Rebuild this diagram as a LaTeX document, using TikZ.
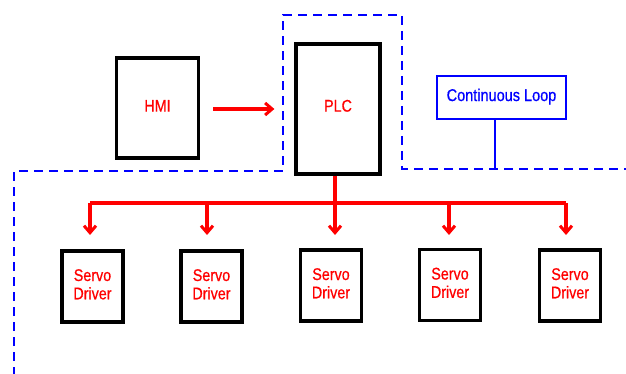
\documentclass[tikz,border=0pt]{standalone}
\usepackage{fontspec}
\usepackage{graphicx}
\setmainfont{Liberation Sans}[BoldFont=Liberation Sans,BoldFeatures={FakeBold=0.7}]
\usetikzlibrary{arrows.meta}
\newcommand{\tallt}[1]{\scalebox{1}[1.18]{\begin{tabular}{@{}c@{}}#1\end{tabular}}}
\begin{document}
\begin{tikzpicture}[x=1pt,y=-1pt,
  blk/.style={draw=black,line width=3.2pt,rectangle,inner sep=0pt,text=red,
    font=\fontsize{14.3}{15.5}\selectfont\bfseries},
  loopbox/.style={draw=blue,line width=1.6pt,rectangle,inner sep=0pt,text=blue,
    font=\fontsize{14.5}{15}\selectfont\bfseries,minimum width=129pt,minimum height=43pt},
  redline/.style={draw=red,line width=3.2pt},
  arr/.style={redline,-{Straight Barb[length=7pt,width=12pt,line width=3pt]}},
  bound/.style={draw=blue,line width=1.8pt,dash pattern=on 9pt off 6pt},
  conn/.style={draw=blue,line width=1.6pt}]
\useasboundingbox (0,0) rectangle (626,374);
\fill[white] (0,0) rectangle (626,374);
\node[blk,minimum width=82pt,minimum height=100pt] (hmi) at (157.5,108) {\raisebox{3pt}{\tallt{HMI}}};
\node[blk,minimum width=84pt,minimum height=130pt] (plc) at (338,109) {\raisebox{7pt}{\tallt{PLC}}};
\node[loopbox] (loop) at (501.5,97.5) {\tallt{Continuous Loop}};
\node[blk,minimum width=61pt,minimum height=71pt] (s1) at (92.5,286.5) {\raisebox{2pt}{\tallt{Servo\\Driver}}};
\node[blk,minimum width=61pt,minimum height=71pt] (s2) at (211.5,286.5) {\raisebox{2pt}{\tallt{Servo\\Driver}}};
\node[blk,minimum width=61pt,minimum height=71pt] (s3) at (331,285.5) {\raisebox{2pt}{\tallt{Servo\\Driver}}};
\node[blk,minimum width=61pt,minimum height=71pt] (s4) at (450,285) {\raisebox{2pt}{\tallt{Servo\\Driver}}};
\node[blk,minimum width=61pt,minimum height=71pt] (s5) at (570,285.5) {\raisebox{2pt}{\tallt{Servo\\Driver}}};
\coordinate (b1) at (90,203);
\coordinate (b2) at (207,203);
\coordinate (b3) at (335,203);
\coordinate (b4) at (449,203);
\coordinate (b5) at (566,203);
% boundary of the continuous loop
\draw[bound] (14,376) -- (14,171) -- (283,171) -- (283,15) -- (402,15) -- (402,169) -- (628,169);
\coordinate (loopbase) at (495,169);
\draw[conn] (loop.south -| loopbase) -- (loopbase);
% HMI to PLC
\draw[arr,shorten <=13pt,shorten >=20pt] (hmi.east |- 0,109) -- (plc.west |- 0,109);
% bus
\draw[redline] (b3 |- plc.south) -- (b3);
\draw[redline] (b1) -- (b5);
\draw[arr] (b1) -- (b1 |- 0,235);
\draw[arr] (b2) -- (b2 |- 0,235);
\draw[arr] (b3) -- (b3 |- 0,235);
\draw[arr] (b4) -- (b4 |- 0,235);
\draw[arr] (b5) -- (b5 |- 0,235);
\end{tikzpicture}
\end{document}
